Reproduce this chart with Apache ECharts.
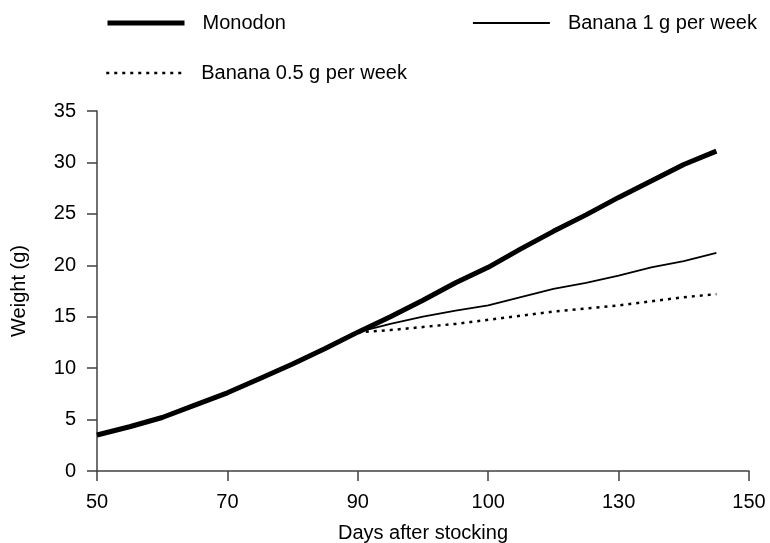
<!DOCTYPE html>
<html>
<head>
<meta charset="utf-8">
<script src="https://cdn.jsdelivr.net/npm/echarts@6/dist/echarts.min.js"></script>
<style>html,body{margin:0;padding:0;background:#fff}#c{width:770px;height:543px}</style>
</head>
<body>
<div id="c"></div>
<script>
var days = [50,55,60,65,70,75,80,85,90,95,100,105,110,115,120,125,130,135,140,145];
var monodon = [3.5,4.3,5.2,6.4,7.6,9.0,10.4,11.9,13.5,15.0,16.6,18.3,19.8,21.6,23.3,24.9,26.6,28.2,29.8,31.1];
var banana1 = [null,null,null,null,null,null,null,null,13.5,14.3,15.0,15.6,16.1,16.9,17.7,18.3,19.0,19.8,20.4,21.2];
var banana05 = [null,null,null,null,null,null,null,null,13.5,13.7,14.0,14.3,14.7,15.1,15.5,15.8,16.1,16.5,16.9,17.2];
var xTickLabels = ['50','70','90','100','130','150'];
var seriesNames = ['Monodon','Banana 1 g per week','Banana 0.5 g per week'];

function pairs(vals){ return days.map(function(d,i){ return [d, vals[i]]; }); }

var font = 'Liberation Sans, Arial, sans-serif';
var lineStyles = [
  {color:'#000', width:5},
  {color:'#000', width:1.8},
  {color:'#000', width:2.5, type:[3,5]}
];
var chart = echarts.init(document.getElementById('c'), null, {renderer:'canvas'});
var legendBase = {
  orient:'horizontal', itemWidth:77, itemHeight:14, itemGap:12,
  itemStyle:{opacity:0},
  textStyle:{fontFamily:font, fontSize:20, color:'#000', padding:[0,0,0,13]}, selectedMode:false
};
function legendItem(i){
  return {name:seriesNames[i], itemStyle:{opacity:0}, lineStyle:Object.assign({opacity:1}, lineStyles[i])};
}
chart.setOption({
  animation:false,
  backgroundColor:'#fff',
  legend:[
    Object.assign({}, legendBase, {data:[legendItem(0)], left:100, top:8}),
    Object.assign({}, legendBase, {data:[legendItem(1)], left:467, top:8}),
    Object.assign({}, legendBase, {data:[legendItem(2)], left:100, top:58})
  ],
  grid:{left:97, right:21, top:111, bottom:72, containLabel:false, outerBoundsMode:'none'},
  xAxis:{
    type:'value', min:50, max:150, interval:20,
    name:'Days after stocking', nameLocation:'middle', nameGap:52,
    nameTextStyle:{fontFamily:font, fontSize:20, color:'#000'},
    axisLine:{lineStyle:{color:'#404040', width:1.5}},
    axisTick:{show:true, length:10, lineStyle:{color:'#404040', width:1.5}},
    axisLabel:{fontFamily:font, fontSize:20, color:'#000', margin:21,
      formatter:function(v){ return xTickLabels[Math.round((v-50)/20)]; }},
    splitLine:{show:false}
  },
  yAxis:{
    type:'value', min:0, max:35, interval:5,
    name:'Weight (g)', nameLocation:'middle', nameGap:68, nameRotate:90,
    nameTextStyle:{fontFamily:font, fontSize:20, color:'#000'},
    axisLine:{show:true, lineStyle:{color:'#404040', width:1.5}},
    axisTick:{show:true, length:10, lineStyle:{color:'#404040', width:1.5}},
    axisLabel:{fontFamily:font, fontSize:20, color:'#000', margin:21},
    splitLine:{show:false}
  },
  series:[
    {name:seriesNames[0], type:'line', data:pairs(monodon), showSymbol:false, symbol:'none',
      lineStyle:lineStyles[0], itemStyle:{color:'#000'}, z:3},
    {name:seriesNames[1], type:'line', data:pairs(banana1), showSymbol:false, symbol:'none',
      lineStyle:lineStyles[1], itemStyle:{color:'#000'}, z:2},
    {name:seriesNames[2], type:'line', data:pairs(banana05), showSymbol:false, symbol:'none',
      lineStyle:lineStyles[2], itemStyle:{color:'#000'}, z:2}
  ]
});
</script>
</body>
</html>
